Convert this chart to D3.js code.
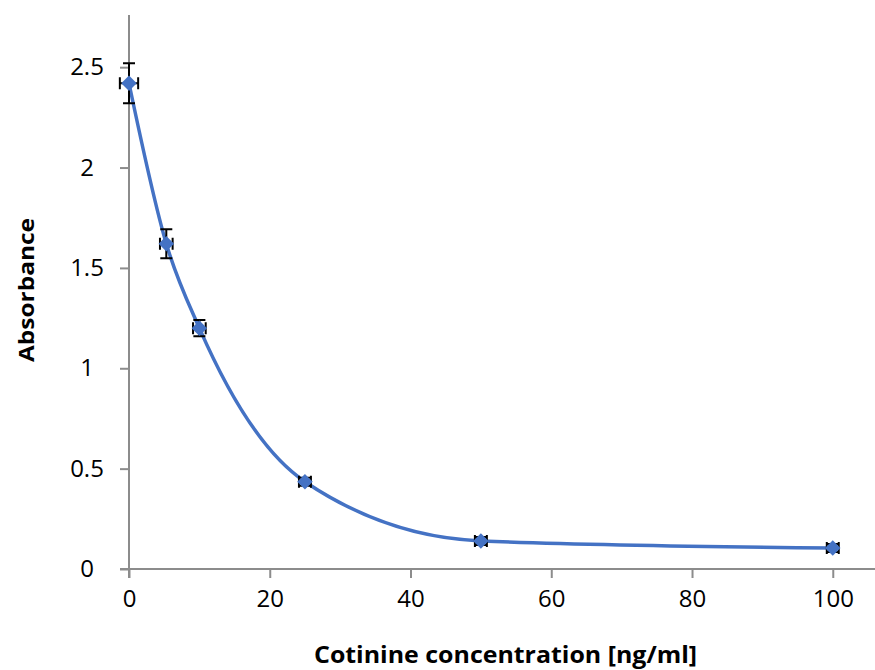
<!DOCTYPE html>
<html>
<head>
<meta charset="utf-8">
<script src="https://cdn.jsdelivr.net/npm/d3@7"></script>
<style>
  body { margin: 0; background: #fff; }
  svg { display: block; }
  text { font-family: "Open Sans", sans-serif; fill: #000; }
</style>
</head>
<body>
<div id="chart"></div>
<script>
// data
var conc = [0, 5.3, 10, 25, 50, 100];
var absorb = [2.42, 1.62, 1.2, 0.435, 0.14, 0.105];
var concErr = [1.3, 0.9, 0.9, 0.85, 0.85, 0.85];
var absErr = [0.1, 0.072, 0.04, 0.02, 0.02, 0.02];
var xTicks = [0, 20, 40, 60, 80, 100];
var yTicks = [0, 0.5, 1, 1.5, 2, 2.5];

var width = 875, height = 670;
var x = d3.scaleLinear().domain([0, 106]).range([129, 875]);
var y = d3.scaleLinear().domain([0, 2.76]).range([569, 15]);

var svg = d3.select("#chart").append("svg")
	.attr("width", width)
	.attr("height", height);

// axes
var xAxis = svg.append("g").attr("transform", "translate(0," + y(0) + ")")
	.call(d3.axisBottom(x).tickValues(xTicks).tickSize(9).tickPadding(12).tickFormat(d3.format("d")));
xAxis.select(".domain").attr("d", "M120,0H875");
var yAxis = svg.append("g").attr("transform", "translate(" + x(0) + ",0)")
	.call(d3.axisLeft(y).tickValues(yTicks).tickSize(9).tickFormat(d3.format("")));
yAxis.select(".domain").attr("d", "M0,15V578");

svg.selectAll(".domain, .tick line").attr("stroke", "#8c8c8c").attr("stroke-width", 2);
xAxis.selectAll("text").attr("font-size", 24).attr("font-family", "Open Sans").attr("dy", "0.71em");
yAxis.selectAll("text").attr("font-size", 24).attr("font-family", "Open Sans")
	.attr("text-anchor", "middle").attr("x", 87 - x(0));

// axis titles
svg.append("text")
	.attr("x", 314).attr("y", 663)
	.attr("font-size", 24).attr("font-weight", "bold")
	.attr("textLength", 383).attr("lengthAdjust", "spacingAndGlyphs")
	.text("Cotinine concentration [ng/ml]");
svg.append("text")
	.attr("transform", "translate(34,362) rotate(-90)")
	.attr("font-size", 22).attr("font-weight", "bold")
	.attr("textLength", 144).attr("lengthAdjust", "spacingAndGlyphs")
	.text("Absorbance");

var pts = conc.map(function(c, i){ return {x: c, y: absorb[i], ex: concErr[i], ey: absErr[i]}; });

// smooth line
var line = d3.line()
	.x(function(d){ return x(d.x); })
	.y(function(d){ return y(d.y); })
	.curve(d3.curveMonotoneX);
svg.append("path").datum(pts)
	.attr("d", line)
	.attr("fill", "none")
	.attr("stroke", "#4472c4")
	.attr("stroke-width", 3.5);

// error bars
var eb = svg.append("g").attr("stroke", "#000").attr("stroke-width", 2).attr("fill", "none");
var cap = 6;
pts.forEach(function(d){
	var cx = x(d.x), cy = y(d.y);
	var y1 = y(d.y + d.ey), y2 = y(d.y - d.ey);
	var x1 = x(d.x - d.ex), x2 = x(d.x + d.ex);
	eb.append("path").attr("d",
		"M" + cx + "," + y1 + "V" + y2 +
		"M" + (cx - cap) + "," + y1 + "H" + (cx + cap) +
		"M" + (cx - cap) + "," + y2 + "H" + (cx + cap));
	eb.append("path").attr("d",
		"M" + x1 + "," + cy + "H" + x2 +
		"M" + x1 + "," + (cy - cap) + "V" + (cy + cap) +
		"M" + x2 + "," + (cy - cap) + "V" + (cy + cap));
});

// markers
svg.append("g").selectAll("path").data(pts).enter().append("path")
	.attr("d", d3.symbol().type(d3.symbolSquare).size(120))
	.attr("transform", function(d){ return "translate(" + x(d.x) + "," + y(d.y) + ") rotate(45)"; })
	.attr("fill", "#4472c4");
</script>
</body>
</html>
